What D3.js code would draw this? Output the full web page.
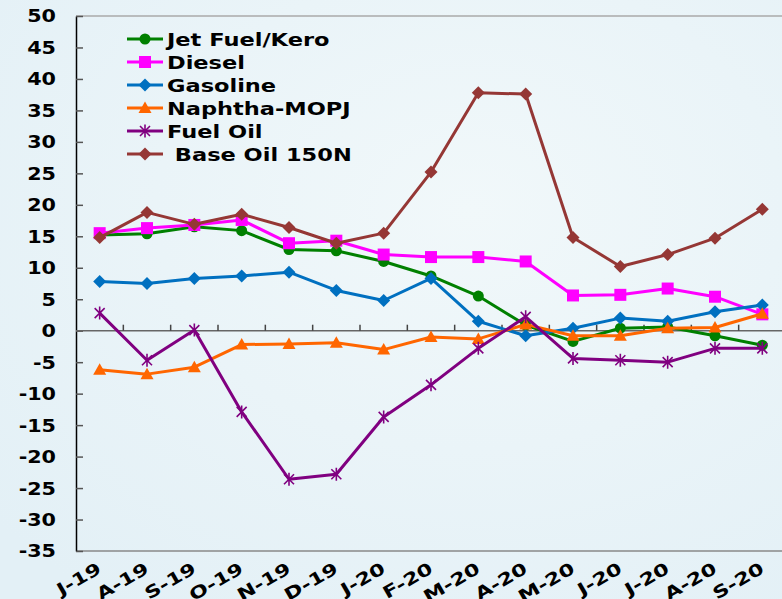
<!DOCTYPE html>
<html><head><meta charset="utf-8">
<script src="https://cdn.jsdelivr.net/npm/d3@7"></script>
<style>body{margin:0;overflow:hidden;} svg{display:block;}</style>
</head><body>
<script>
const categories = ["J-19","A-19","S-19","O-19","N-19","D-19","J-20","F-20","M-20","A-20","M-20","J-20","J-20","A-20","S-20"];
const jetFuel  = [15.2,15.4,16.5,15.9,12.9,12.7,11.0,8.7,5.5,0.9,-1.7,0.4,0.6,-0.8,-2.3];
const diesel   = [15.5,16.3,16.8,17.6,13.9,14.3,12.1,11.7,11.7,11.0,5.6,5.7,6.7,5.4,2.6];
const gasoline = [7.8,7.5,8.3,8.7,9.3,6.4,4.8,8.3,1.5,-0.8,0.4,2.0,1.5,3.0,4.1];
const naphtha  = [-6.2,-6.9,-5.8,-2.2,-2.1,-1.9,-3.0,-1.0,-1.3,1.0,-0.8,-0.8,0.4,0.5,2.7];
const fuelOil  = [2.8,-4.7,0.1,-12.9,-23.6,-22.8,-13.7,-8.6,-2.8,2.2,-4.4,-4.7,-5.0,-2.8,-2.8];
const baseOil  = [14.8,18.8,16.9,18.5,16.4,13.9,15.5,25.2,37.8,37.6,14.8,10.2,12.1,14.7,19.3];
const seriesNames = ["Jet Fuel/Kero","Diesel","Gasoline","Naphtha-MOPJ","Fuel Oil"," Base Oil 150N"];
const yTicks = d3.range(-35, 51, 5);

const series = [
  {name: seriesNames[0], values: jetFuel,  color: "#008000", marker: "circle"},
  {name: seriesNames[1], values: diesel,   color: "#ff00ff", marker: "square"},
  {name: seriesNames[2], values: gasoline, color: "#0070c0", marker: "diamond"},
  {name: seriesNames[3], values: naphtha,  color: "#ff6600", marker: "triangle"},
  {name: seriesNames[4], values: fuelOil,  color: "#800080", marker: "star"},
  {name: seriesNames[5], values: baseOil,  color: "#953735", marker: "diamond"}
];

const W = 782, H = 599;
const svg = d3.select("body").append("svg").attr("width", W).attr("height", H);
const defs = svg.append("defs");
const grad = defs.append("radialGradient").attr("id","bg").attr("cx","60%").attr("cy","35%").attr("r","80%");
grad.append("stop").attr("offset","0%").attr("stop-color","#f1f8fa");
grad.append("stop").attr("offset","100%").attr("stop-color","#e3f0f6");
svg.append("rect").attr("width",W).attr("height",H).attr("fill","url(#bg)");

const x = d3.scaleBand().domain(d3.range(categories.length)).range([76, 786]);
const y = d3.scaleLinear().domain([-35, 50]).range([551, 16]);
const cx = i => x(i) + x.bandwidth()/2;
const font = "'DejaVu Sans', Verdana, sans-serif";

// frame lines
svg.append("line").attr("x1",76).attr("x2",W).attr("y1",y(50)).attr("y2",y(50)).attr("stroke","#aaaaaa").attr("stroke-width",1.5);
svg.append("line").attr("x1",76).attr("x2",W).attr("y1",y(-35)).attr("y2",y(-35)).attr("stroke","#888888").attr("stroke-width",1.5);

// y axis
const yAxis = d3.axisLeft(y).tickValues(yTicks).tickSizeInner(-7).tickSizeOuter(0).tickFormat("");
const yg = svg.append("g").attr("transform","translate(76,0)").call(yAxis);
yg.select(".domain").attr("stroke","#000").attr("stroke-width",1.5);
yg.selectAll(".tick line").attr("stroke","#555").attr("stroke-width",1.5);
svg.append("g").selectAll("g").data(yTicks).join("g")
  .attr("transform", d => `translate(56,${y(d)}) scale(1.15,1)`)
  .append("text").attr("text-anchor","end").attr("dy","0.36em")
  .attr("font-family",font).attr("font-weight","bold").attr("font-size",18).attr("fill","#000")
  .text(d => d);

// zero axis with upward ticks at band boundaries
const zg = svg.append("g");
zg.append("line").attr("x1",76).attr("x2",786).attr("y1",y(0)).attr("y2",y(0)).attr("stroke","#666").attr("stroke-width",1.5);
zg.selectAll("line.t").data(d3.range(1, categories.length+1)).join("line").attr("class","t")
  .attr("x1", i => x(0) + i*x.bandwidth()).attr("x2", i => x(0) + i*x.bandwidth())
  .attr("y1", y(0)).attr("y2", y(0)-6).attr("stroke","#444").attr("stroke-width",1.5);

// x labels
svg.append("g").selectAll("g").data(categories).join("g")
  .attr("transform", (d,i) => `translate(${cx(i)+3},${572}) rotate(-30) scale(1.3,1)`)
  .append("text").attr("text-anchor","end")
  .attr("font-family",font).attr("font-weight","bold").attr("font-size",17).attr("fill","#000")
  .text(d => d);

function drawMarker(g, type, color) {
  if (type === "circle") g.append("circle").attr("r",5.5).attr("fill",color);
  else if (type === "square") g.append("rect").attr("x",-6).attr("y",-6).attr("width",12).attr("height",12).attr("fill",color);
  else if (type === "diamond") g.append("path").attr("d","M0,-6.5L6.5,0L0,6.5L-6.5,0Z").attr("fill",color);
  else if (type === "triangle") g.append("path").attr("d","M0,-6.5L6.5,5L-6.5,5Z").attr("fill",color);
  else if (type === "star") g.append("path").attr("d","M-5,-5L5,5M-5,5L5,-5M0,-6.5L0,6.5").attr("stroke",color).attr("stroke-width",1.6).attr("fill","none");
}

const line = d3.line().x((d,i) => cx(i)).y(d => y(d));
series.forEach(s => {
  const g = svg.append("g");
  g.append("path").attr("d", line(s.values)).attr("fill","none").attr("stroke",s.color).attr("stroke-width",3).attr("stroke-linejoin","round");
  s.values.forEach((v,i) => {
    const mg = g.append("g").attr("transform",`translate(${cx(i)},${y(v)})`);
    drawMarker(mg, s.marker, s.color);
  });
});

// legend
const lg = svg.append("g");
series.forEach((s,k) => {
  const yy = 39 + k*23;
  lg.append("line").attr("x1",127).attr("x2",163).attr("y1",yy).attr("y2",yy).attr("stroke",s.color).attr("stroke-width",3);
  drawMarker(lg.append("g").attr("transform",`translate(145,${yy})`), s.marker, s.color);
  lg.append("g").attr("transform",`translate(167,${yy+6.5}) scale(1.25,1)`)
    .append("text").attr("font-family",font).attr("font-weight","bold").attr("font-size",18).attr("fill","#000")
    .attr("xml:space","preserve").style("white-space","pre").text(s.name);
});
</script>
</body></html>
